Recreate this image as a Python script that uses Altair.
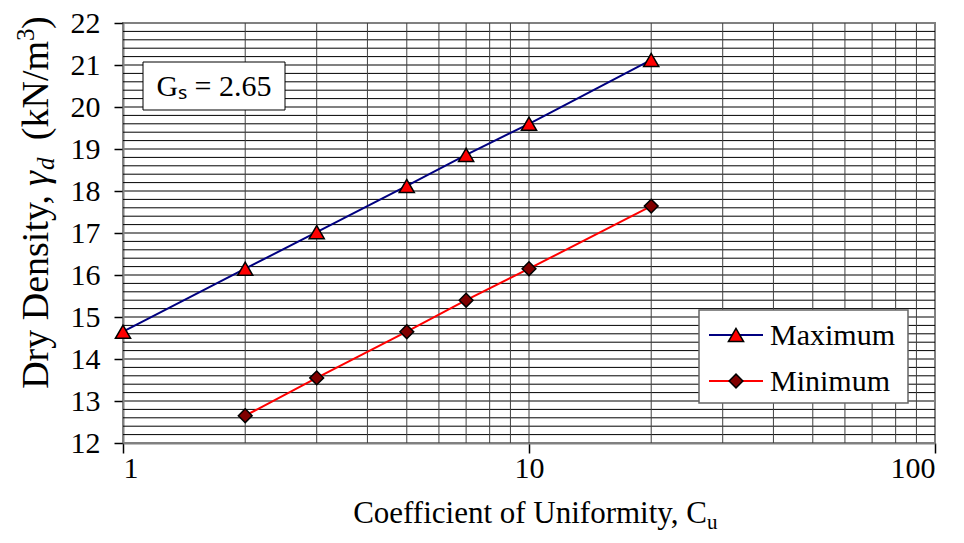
import altair as alt
import pandas as pd

# ---- data ----
cu_max = [1, 2, 3, 5, 7, 10, 20]
gd_max = [14.65, 16.15, 17.02, 18.12, 18.86, 19.60, 21.12]
cu_min = [2, 3, 5, 7, 10, 20]
gd_min = [12.65, 13.55, 14.65, 15.40, 16.15, 17.64]
series_names = ["Maximum", "Minimum"]
x_ticks = [1, 10, 100]
y_ticks = list(range(12, 23))
x_grid = [2, 3, 4, 5, 6, 7, 8, 9, 10, 20, 30, 40, 50, 60, 70, 80, 90]
y_grid_minor = [round(12 + 0.2 * i, 1) for i in range(51) if (i % 5) != 0]
y_grid_major = list(range(13, 22))

FONT = "Liberation Serif"
TOP = 15
W, H = 812, 420
SIZES = [230, 190]

df = pd.DataFrame(
    {"cu": cu_max + cu_min,
     "gd": gd_max + gd_min,
     "series": [series_names[0]] * len(cu_max) + [series_names[1]] * len(cu_min)}
)

xs = alt.Scale(type="log", domain=[1, 100], nice=False)
ys = alt.Scale(domain=[12, 22], nice=False, zero=False)

x_axis = alt.Axis(values=x_ticks, format="d", title=None, grid=False, tickSize=10, labelPadding=0)
y_axis = alt.Axis(values=y_ticks, title=None, grid=False, tickSize=9, labelPadding=14)

hminor = alt.Chart(pd.DataFrame({"gd": y_grid_minor})).mark_rule(
    color="#000000", strokeWidth=1).encode(y=alt.Y("gd:Q", scale=ys))
hmajor = alt.Chart(pd.DataFrame({"gd": y_grid_major})).mark_rule(
    color="#808080", strokeWidth=2).encode(y=alt.Y("gd:Q", scale=ys))
vgrid = alt.Chart(pd.DataFrame({"cu": x_grid})).mark_rule(
    color="#404040", strokeWidth=1).encode(x=alt.X("cu:Q", scale=xs))

lines = alt.Chart(df).mark_line(strokeWidth=2).encode(
    x=alt.X("cu:Q", scale=xs, axis=x_axis),
    y=alt.Y("gd:Q", scale=ys, axis=y_axis),
    color=alt.Color("series:N", scale=alt.Scale(domain=series_names, range=["#000080", "#FF0000"]), legend=None),
    detail="series:N",
)
points = alt.Chart(df).mark_point(filled=True, stroke="black", strokeWidth=1.5, opacity=1).encode(
    x=alt.X("cu:Q", scale=xs),
    y=alt.Y("gd:Q", scale=ys),
    shape=alt.Shape("series:N", scale=alt.Scale(domain=series_names, range=["triangle-up", "diamond"]), legend=None),
    fill=alt.Fill("series:N", scale=alt.Scale(domain=series_names, range=["#FF0000", "#800000"]), legend=None),
    size=alt.Size("series:N", scale=alt.Scale(domain=series_names, range=SIZES), legend=None),
)

one = alt.Data(values=[{}])
OFF = 21 - (8 + TOP)  # keep page positions as measured (reference plot top at page y 21)


def txt(s, x, y, size, align="left", angle=0, style="normal", baseline="alphabetic"):
    kw = dict(font=FONT, fontSize=size, color="black", align=align, baseline=baseline,
              fontStyle=style)
    if angle:
        kw["angle"] = angle
    return alt.Chart(one).mark_text(**kw).encode(x=alt.value(x), y=alt.value(y + OFF), text=alt.value(s))


# axis titles built from pieces (italic symbol, sub/superscripts)
XB = 502   # x-title baseline
XQ = 584   # join between "C" and subscript "u"
x_title = [
    txt("Coefficient of Uniformity, C", XQ, XB, 31, align="right"),
    txt("u", XQ, XB + 6, 21, align="left"),
]
YX = -75   # y-title baseline (rotated)
P1 = 165   # start of the italic gamma
P2 = 20    # end of "(kN/m"
y_title = [
    txt("Dry Density,", YX, P1 + 9, 38, align="right", angle=270),
    txt("γ", YX, P1, 38, align="left", angle=270, style="italic"),
    txt("d", YX + 6, P1 - 16, 25, align="left", angle=270, style="italic"),
    txt("(kN/m", YX, P2, 38, align="right", angle=270),
    txt("3", YX - 14, P2, 25, align="left", angle=270),
    txt(")", YX, P2 - 12, 38, align="left", angle=270),
]

# Gs annotation box
gs_box = alt.Chart(one).mark_rect(fill="white", stroke="black", strokeWidth=1).encode(
    x=alt.value(20), x2=alt.value(162), y=alt.value(41 + OFF), y2=alt.value(89 + OFF))
gs_text = txt("Gₛ = 2.65", 91, 66, 30, align="center", baseline="middle")

# custom legend
leg_box = alt.Chart(one).mark_rect(fill="white", stroke="#666666", strokeWidth=1.5).encode(
    x=alt.value(576), x2=alt.value(785), y=alt.value(289 + OFF), y2=alt.value(382 + OFF))
leg_layers = [leg_box]
leg_specs = [
    (series_names[0], "#000080", "triangle-up", "#FF0000", SIZES[0], 314),
    (series_names[1], "#FF0000", "diamond", "#800000", SIZES[1], 360),
]
for name, lc, shp, fc, sz, yy in leg_specs:
    leg_layers.append(alt.Chart(one).mark_rule(color=lc, strokeWidth=2).encode(
        x=alt.value(586), x2=alt.value(640), y=alt.value(yy + OFF)))
    leg_layers.append(alt.Chart(one).mark_point(shape=shp, filled=True, fill=fc, stroke="black",
                                                strokeWidth=1.5, size=sz, opacity=1).encode(
        x=alt.value(613), y=alt.value(yy + OFF)))
    leg_layers.append(txt(name, 647, yy + 1, 30, align="left", baseline="middle"))

chart = alt.layer(hminor, hmajor, vgrid, lines, points, gs_box, gs_text,
                  *leg_layers, *x_title, *y_title).properties(
    width=W, height=H,
    autosize=alt.AutoSizeParams(type="none"),
    padding={"left": 115, "top": TOP, "right": 21, "bottom": 92},
).configure_view(stroke="#808080", strokeWidth=2).configure_axis(
    labelFont=FONT, labelFontSize=30, labelColor="black",
    tickColor="black", tickWidth=1.5, domainColor="#808080", domainWidth=2,
)

chart.save("out.html", embed_options={"renderer": "svg", "actions": False})
